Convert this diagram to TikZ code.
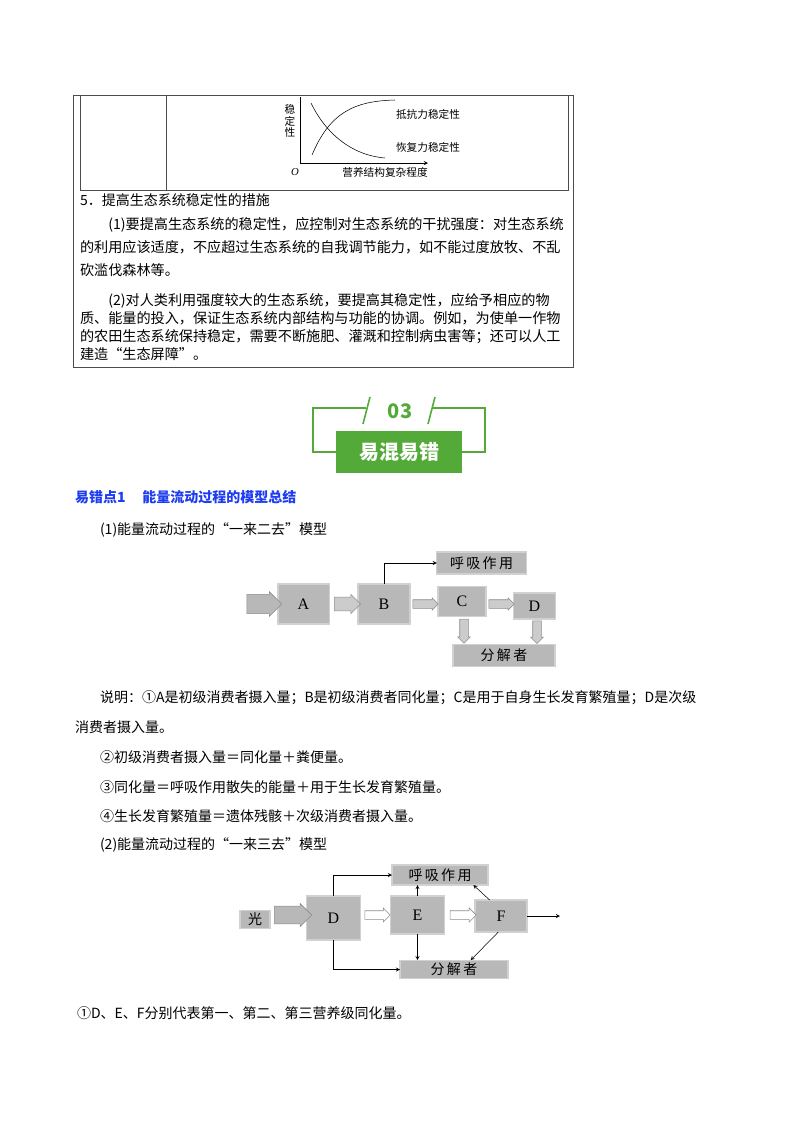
\documentclass[tikz,border=0pt]{standalone}
\usepackage{fontspec}
\setmainfont{Noto Sans CJK SC}
\newfontfamily\lat{Liberation Serif}
\usepackage{tikz}
\usetikzlibrary{arrows,shapes.arrows,positioning}

\definecolor{bannergreen}{RGB}{84,170,56}
\definecolor{headblue}{RGB}{30,60,240}

\begin{document}
\begin{tikzpicture}[x={(0.75pt,0)}, y={(0,-0.75pt)},
    %Option for nice arrows
    >=stealth, %
    inner sep=0pt, outer sep=0pt,%
    box/.style={fill=black!28, draw=black!18, line width=0.8pt},
    label/.style={font=\lat\fontsize{12}{12}\selectfont},
    bigarrow/.style={single arrow, fill=black!28, draw=black!45, line width=0.4pt, inner xsep=0pt, inner ysep=#1, single arrow head extend=3pt},
    hollowarrow/.style={single arrow, fill=white, draw=black!45, line width=0.4pt, inner xsep=0pt, inner ysep=3pt, single arrow head extend=2pt},
    para/.style={anchor=north west, align=left, font=\fontsize{10.6}{17}\selectfont},
    line/.style={thin,->},
]
    \useasboundingbox (0,0) rectangle (800,1132);

    % Table frame
    \draw[black!70] (73,95) rectangle (573,367);
    \draw[black!70] (80,95) rectangle (568,190);
    \draw[black!70] (166,95) -- (166,190);

    % Stability chart
    \draw[->,>=stealth] (300,163) -- (428,163);
    \draw (300,163) -- (300,97);
    \node[align=center, font=\fontsize{8}{8.5}\selectfont] (ylab) at (290,121) {稳\\定\\性};
    \node[font=\lat\itshape\fontsize{8}{8}\selectfont] (orig) at (295,172) {O};
    \node[font=\fontsize{8}{8}\selectfont] (xlab) at (385,172) {营养结构复杂程度};
    \draw (312,155) .. controls (330,112) and (355,101) .. (395,100);
    \draw (311,103) .. controls (325,132) and (350,155) .. (385,158);
    \node[anchor=west, font=\fontsize{8}{8}\selectfont] (resist) at (396,114) {抵抗力稳定性};
    \node[anchor=west, font=\fontsize{8}{8}\selectfont] (recover) at (396,147) {恢复力稳定性};

    % Measures text
    \node[anchor=west, font=\fontsize{10.5}{12}\selectfont] (t5) at (80,200) {5．提高生态系统稳定性的措施};
    \node[para] (p1) at (80,218) {\hspace*{2em}(1)要提高生态系统的稳定性，应控制对生态系统的干扰强度：对生态系统\\的利用应该适度，不应超过生态系统的自我调节能力，如不能过度放牧、不乱\\砍滥伐森林等。};
    \node[para, font=\fontsize{10.6}{13.5}\selectfont] (p2) at (80,294) {\hspace*{2em}(2)对人类利用强度较大的生态系统，要提高其稳定性，应给予相应的物\\质、能量的投入，保证生态系统内部结构与功能的协调。例如，为使单一作物\\的农田生态系统保持稳定，需要不断施肥、灌溉和控制病虫害等；还可以人工\\建造“生态屏障”。};

    % Banner
    \draw[bannergreen, line width=1.2pt] (366,408) -- (313,408) -- (313,452) -- (336,452);
    \draw[bannergreen, line width=1.2pt] (432,408) -- (485,408) -- (485,452) -- (462,452);
    \draw[bannergreen, line width=1.2pt] (363,424) -- (370,397);
    \draw[bannergreen, line width=1.2pt] (428,424) -- (435,397);
    \node[font=\bfseries\fontsize{15}{15}\selectfont, text=bannergreen] (num) at (400,411) {03};
    \node[fill=bannergreen, minimum width=94.5pt, minimum height=31pt, text=white, font=\bfseries\fontsize{15}{15}\selectfont] (banner) at (399,452) {易混易错};

    % Headings
    \node[anchor=west, text=headblue, font=\bfseries\fontsize{10.5}{12}\selectfont] (head) at (75,497) {易错点1\hspace{1.2em}能量流动过程的模型总结};
    \node[anchor=west, font=\fontsize{10.5}{12}\selectfont] (m1) at (100,530) {(1)能量流动过程的“一来二去”模型};

    % Model one
    \node[box, minimum width=38.3pt, minimum height=30pt, label] (A) at (303.5,604) {A};
    \node[box, minimum width=39pt, minimum height=30pt, label] (B) at (384,604) {B};
    \node[box, minimum width=36pt, minimum height=23pt, label] (C) at (462,601.5) {C};
    \node[box, minimum width=32pt, minimum height=19.5pt, label] (D) at (534.5,606) {D};
    \node[box, minimum width=67pt, minimum height=16.5pt, font=\fontsize{10.5}{11}\selectfont] (resp) at (481.5,563) {呼\,吸\,作\,用};
    \node[box, minimum width=76.5pt, minimum height=17pt, font=\fontsize{10.5}{11}\selectfont] (decomp) at (504,655.5) {分\,解\,者};
    \node[bigarrow=7pt, minimum height=26pt, single arrow head extend=2pt] (inA) at (259.5,604) {};
    \node[bigarrow=5pt, minimum height=19.5pt, fill=black!20, single arrow head extend=2pt] (AB) at (344,604) {};
    \node[bigarrow=3pt, minimum height=19pt, fill=black!20, single arrow head extend=1.5pt] (BC) at (423.5,604) {};
    \node[bigarrow=3pt, minimum height=19pt, fill=black!20, single arrow head extend=1.5pt] (CD) at (499.5,604) {};
    \node[bigarrow=3pt, minimum height=18pt, fill=black!20, single arrow head extend=1.5pt, rotate=-90] (Cdn) at (464,629) {};
    \node[bigarrow=3pt, minimum height=17pt, fill=black!20, single arrow head extend=1.5pt, rotate=-90] (Ddn) at (537,630) {};
    \draw[line] (B.north) |- (resp.west);

    % Notes
    \node[anchor=west, font=\fontsize{10.5}{12}\selectfont] (n1) at (100,698) {说明：①A是初级消费者摄入量；B是初级消费者同化量；C是用于自身生长发育繁殖量；D是次级};
    \node[anchor=west, font=\fontsize{10.5}{12}\selectfont] (n1b) at (75,727) {消费者摄入量。};
    \node[anchor=west, font=\fontsize{10.5}{12}\selectfont] (n2) at (100,757) {②初级消费者摄入量＝同化量＋粪便量。};
    \node[anchor=west, font=\fontsize{10.5}{12}\selectfont] (n3) at (100,787) {③同化量＝呼吸作用散失的能量＋用于生长发育繁殖量。};
    \node[anchor=west, font=\fontsize{10.5}{12}\selectfont] (n4) at (100,816) {④生长发育繁殖量＝遗体残骸＋次级消费者摄入量。};
    \node[anchor=west, font=\fontsize{10.5}{12}\selectfont] (m2) at (100,845) {(2)能量流动过程的“一来三去”模型};

    % Model two
    \node[box, minimum width=22.5pt, minimum height=14pt, font=\fontsize{10.5}{11}\selectfont] (light) at (255,919.5) {光};
    \node[box, minimum width=40pt, minimum height=33pt, label] (D2) at (333.5,918) {D};
    \node[box, minimum width=41pt, minimum height=28.5pt, label] (E) at (417.5,915) {E};
    \node[box, minimum width=39pt, minimum height=24pt, label] (F) at (501,916) {F};
    \node[box, minimum width=72pt, minimum height=15pt, font=\fontsize{10.5}{11}\selectfont] (resp2) at (440,875) {呼\,吸\,作\,用};
    \node[box, minimum width=81pt, minimum height=14pt, font=\fontsize{10.5}{11}\selectfont] (decomp2) at (454,969.5) {分\,解\,者};
    \node[bigarrow=6.5pt, minimum height=28pt, single arrow head extend=2pt] (inD) at (288.5,915) {};
    \node[hollowarrow, minimum height=19pt] (DE) at (375.5,915) {};
    \node[hollowarrow, minimum height=19.5pt] (EF) at (461,915) {};
    \coordinate (out) at (560,916);
    \draw[line] (D2.north) |- (resp2.west);
    \draw[line] (D2.south) |- (decomp2.west);
    \draw[line] (E.north) -- (E.north |- resp2.south);
    \draw[line] (E.south) -- (E.south |- decomp2.north);
    \draw[line] ([xshift=11pt]F.north west) -- ([xshift=-11pt]resp2.south east);
    \draw[line] ([xshift=-2pt]F.south) -- ([xshift=-28pt]decomp2.north east);
    \draw[line] (F.east) -- (out);

    \node[anchor=west, font=\fontsize{10.5}{12}\selectfont] (n5) at (77,1013) {①D、E、F分别代表第一、第二、第三营养级同化量。};

\end{tikzpicture}
\end{document}
